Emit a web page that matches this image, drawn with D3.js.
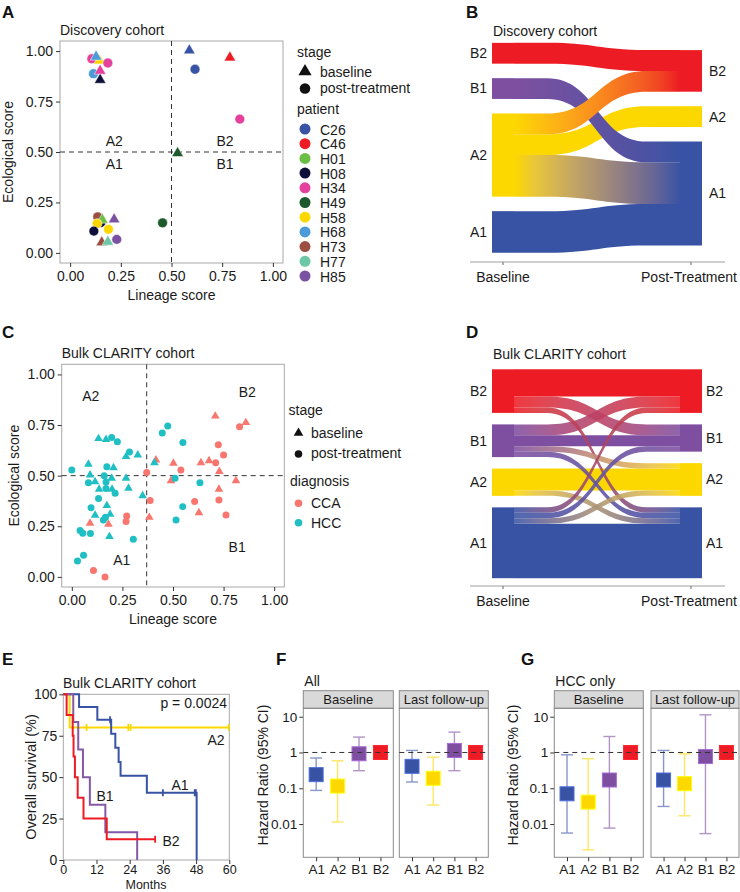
<!DOCTYPE html>
<html><head><meta charset="utf-8">
<script src="https://cdn.jsdelivr.net/npm/d3@7/dist/d3.min.js"></script>
<style>html,body{margin:0;padding:0;background:#fff;} svg{display:block;}</style>
</head><body>
<script>
// ================= DATA =================
const patients = ["C26","C46","H01","H08","H34","H49","H58","H68","H73","H77","H85"];
const patientColors = ["#3953a4","#ed1c24","#6abd45","#0e1039","#e5409b","#1c5a2b","#fdd800","#4a9bd7","#9b4f42","#6cc7a7","#7b51a1"];
const stageLabels = ["baseline","post-treatment"];
// [patient, stage (b/p), lineage score, ecological score]
const discoveryPoints = [
  ["H34","p",0.107,0.962],["H58","b",0.145,0.953],["H68","b",0.128,0.972],["H34","p",0.186,0.941],
  ["H68","p",0.115,0.888],["H34","b",0.148,0.902],["H08","b",0.148,0.857],
  ["C26","b",0.588,1.003],["C26","p",0.616,0.910],["C46","b",0.788,0.968],["H34","p",0.837,0.663],
  ["H49","b",0.530,0.494],
  ["H08","p",0.151,0.150],["H73","p",0.136,0.179],["H01","b",0.159,0.164],["H58","p",0.133,0.145],
  ["H08","p",0.117,0.108],["H85","b",0.217,0.166],["H58","p",0.189,0.117],["H73","b",0.156,0.052],
  ["H77","b",0.186,0.055],["H85","p",0.230,0.067],["H49","p",0.456,0.149]
];
const diagnoses = ["CCA","HCC"];
const diagnosisColors = ["#f8766d","#1fbfc4"];
// [diagnosis, stage, lineage score, ecological score]
const clarityPoints = [
  ["CCA","p",0.370,0.515],["CCA","b",0.416,0.577],["CCA","p",0.387,0.377],["CCA","b",0.383,0.294],
  ["CCA","p",0.271,0.301],["CCA","p",0.268,0.273],["CCA","b",0.090,0.265],["CCA","b",0.181,0.260],
  ["CCA","p",0.107,0.031],["CCA","p",0.164,0.000],["CCA","b",0.502,0.561],["CCA","b",0.490,0.475],
  ["CCA","p",0.539,0.528],["CCA","b",0.709,0.794],["CCA","p",0.829,0.742],["CCA","b",0.860,0.762],
  ["CCA","p",0.724,0.653],["CCA","p",0.750,0.602],["CCA","b",0.678,0.574],["CCA","p",0.711,0.564],
  ["CCA","b",0.638,0.564],["CCA","b",0.729,0.521],["CCA","b",0.811,0.475],["CCA","b",0.727,0.433],
  ["CCA","p",0.607,0.372],["CCA","p",0.727,0.380],["CCA","b",0.628,0.317],["CCA","p",0.762,0.306],
  ["HCC","p",0.000,0.528],["HCC","b",0.082,0.556],["HCC","b",0.090,0.503],["HCC","p",0.082,0.465],
  ["HCC","b",0.115,0.470],["HCC","b",0.132,0.683],["HCC","b",0.169,0.679],["HCC","p",0.197,0.688],
  ["HCC","p",0.225,0.668],["HCC","p",0.173,0.544],["HCC","b",0.206,0.539],["HCC","p",0.160,0.500],
  ["HCC","p",0.169,0.469],["HCC","b",0.197,0.487],["HCC","b",0.135,0.433],["HCC","p",0.169,0.436],
  ["HCC","b",0.199,0.433],["HCC","p",0.214,0.413],["HCC","p",0.132,0.387],["HCC","p",0.095,0.342],
  ["HCC","b",0.115,0.304],["HCC","b",0.173,0.352],["HCC","p",0.156,0.281],["HCC","p",0.166,0.294],
  ["HCC","b",0.189,0.309],["HCC","p",0.041,0.229],["HCC","p",0.054,0.215],["HCC","p",0.092,0.214],
  ["HCC","b",0.186,0.199],["HCC","p",0.028,0.079],["HCC","p",0.058,0.107],["HCC","p",0.285,0.617],
  ["HCC","b",0.268,0.594],["HCC","b",0.326,0.602],["HCC","b",0.268,0.487],["HCC","b",0.280,0.438],
  ["HCC","b",0.350,0.401],["HCC","p",0.304,0.186],["HCC","p",0.447,0.711],["HCC","p",0.474,0.745],
  ["HCC","p",0.549,0.664],["HCC","b",0.408,0.564],["HCC","p",0.510,0.487],["HCC","p",0.548,0.347],
  ["HCC","p",0.515,0.281],["HCC","p",0.633,0.465]
];
const scoreTicks = [0, 0.25, 0.5, 0.75, 1];

const states = ["B2","B1","A2","A1"];
const stateColors = {B2:"#ed1c24", B1:"#7e4fa0", A2:"#fdd800", A1:"#3953a4"};
const timepoints = ["Baseline","Post-Treatment"];
// [from, to, n]
const flowsDiscovery = [["B2","B2",1],["B1","A1",1],["A2","B2",1],["A2","A2",1],["A2","A1",2],["A1","A1",2]];
const flowsClarity = [["B2","B2",5],["B2","B1",2],["B2","A1",1],["B1","B2",2],["B1","B1",2],["B1","A2",1],["B1","A1",1],
  ["A2","A2",4],["A2","A1",1],["A1","B2",1],["A1","B1",1],["A1","A2",1],["A1","A1",10]];

// Kaplan-Meier steps [months, survival %]
const survA1 = [[0,100],[5.7,92.3],[12.3,84.6],[17.3,76.2],[18.8,67.7],[20.0,59.2],[20.7,50.8],[30.2,40.6],[48.2,0]];
const survA2 = [[0,100],[2.3,80]];
const survB1 = [[0,100],[3.6,83.3],[5.4,66.7],[7.1,50],[9.6,33.3],[15.2,16.7],[26.7,0]];
const survB2 = [[0,100],[1.2,87.5],[3.4,75],[3.7,62.5],[4.2,50],[5.2,37.5],[7.3,25],[15.7,12.5]];
const survEnd = {A1:48.2, A2:60, B1:26.7, B2:33.2};
const censA1 = [16.9, 36.0, 47.5, 47.9];
const censA2 = [8.4, 23.5, 24.3, 59.8];
const censB1 = [];
const censB2 = [33.2];
const monthTicks = [0,12,24,36,48,60];
const survTicks = [0,25,50,75,100];

// Hazard ratios
const hrGroups = ["A1","A2","B1","B2"];
const hrFacets = ["Baseline","Last follow-up"];
const hrAllBaseline = {est:[0.24,0.115,0.92,1], lo:[0.087,0.0114,0.31,null], hi:[0.70,0.586,2.69,null]};
const hrAllLast     = {est:[0.41,0.19,1.14,1],  lo:[0.15,0.034,0.31,null],  hi:[1.14,0.74,3.71,null]};
const hrHccBaseline = {est:[0.070,0.041,0.17,1], lo:[0.0056,0.0019,0.0077,null], hi:[0.86,0.67,2.8,null]};
const hrHccLast     = {est:[0.17,0.134,0.77,1],  lo:[0.031,0.017,0.0054,null],  hi:[1.14,0.92,11.3,null]};
const hrTicks = [0.01, 0.1, 1, 10];

// ================= DRAWING =================
const FONT = '"Liberation Sans", Arial, Helvetica, sans-serif';
const TXT = "#1a1a1a";
const svg = d3.select("body").append("svg").attr("width",740).attr("height",892)
  .attr("font-family",FONT).attr("fill",TXT);

function txt(g, x, y, s, size, anchor) {
  return g.append("text").attr("x",x).attr("y",y).attr("font-size",size||14)
    .attr("text-anchor",anchor||"start").attr("fill",TXT).text(s);
}
function styleAxis(sel, fs) {
  sel.attr("font-family",FONT).attr("font-size",fs);
  sel.select(".domain").remove();
  sel.selectAll(".tick line").attr("stroke","#333");
  sel.selectAll(".tick text").attr("fill",TXT);
}
function letter(s,x,y){ svg.append("text").attr("x",x).attr("y",y).attr("font-size",17).attr("font-weight","bold").attr("fill","#111").text(s); }

letter("A",2,18); letter("B",466,18); letter("C",2,338); letter("D",466,338);
letter("E",2,665); letter("F",276,665); letter("G",521,665);

// ---------- scatter panels ----------
function scatterPanel(o) {
  const g = svg.append("g");
  const x = d3.scaleLinear().domain([-0.05,1.05]).range([o.left,o.right]);
  const y = d3.scaleLinear().domain([-0.05,1.05]).range([o.bottom,o.top]);
  g.append("rect").attr("x",o.left).attr("y",o.top).attr("width",o.right-o.left).attr("height",o.bottom-o.top)
    .attr("fill","none").attr("stroke","#a8a8a8").attr("stroke-width",1);
  const fmt = d3.format(".2f");
  const gx = g.append("g").attr("transform",`translate(0,${o.bottom})`)
    .call(d3.axisBottom(x).tickValues(scoreTicks).tickFormat(fmt).tickSize(4).tickPadding(4));
  styleAxis(gx,14);
  const gy = g.append("g").attr("transform",`translate(${o.left},0)`)
    .call(d3.axisLeft(y).tickValues(scoreTicks).tickFormat(fmt).tickSize(4).tickPadding(3));
  styleAxis(gy,14);
  txt(g,(o.left+o.right)/2,o.bottom+37,"Lineage score",14,"middle");
  g.append("text").attr("transform",`translate(${o.ytitleX},${(o.top+o.bottom)/2}) rotate(-90)`)
    .attr("text-anchor","middle").attr("font-size",14).attr("fill",TXT).text("Ecological score");
  txt(g,o.left,o.top-6,o.title,14);
  g.append("line").attr("x1",x(o.vx)).attr("x2",x(o.vx)).attr("y1",o.top).attr("y2",o.bottom)
    .attr("stroke","#333").attr("stroke-dasharray","5,4").attr("stroke-width",1);
  g.append("line").attr("x1",o.left).attr("x2",o.right).attr("y1",y(0.5)).attr("y2",y(0.5))
    .attr("stroke","#333").attr("stroke-dasharray","5,4").attr("stroke-width",1);
  o.labels.forEach(l => txt(g,x(l[1]),y(l[2]),l[0],14,"middle").attr("dy","0.35em"));
  return {g,x,y};
}

// Panel A
(function(){
  const p = scatterPanel({left:60,right:283,top:41,bottom:263,vx:0.5,ytitleX:13,title:"Discovery cohort",
    labels:[["A2",0.218,0.553],["A1",0.218,0.442],["B2",0.764,0.553],["B1",0.764,0.442]]});
  const col = d3.scaleOrdinal().domain(patients).range(patientColors);
  discoveryPoints.forEach(d=>{
    const cx = p.x(d[2]), cy = p.y(d[3]);
    if (d[1]==="b") p.g.append("path").attr("d",d3.symbol(d3.symbolTriangle,58)()).attr("transform",`translate(${cx},${cy})`)
      .attr("fill",col(d[0])).attr("stroke","#fff").attr("stroke-width",0.5);
    else p.g.append("circle").attr("cx",cx).attr("cy",cy).attr("r",4.9).attr("fill",col(d[0])).attr("stroke","#fff").attr("stroke-width",0.5);
  });
  const lg = svg.append("g");
  txt(lg,297,57,"stage",14);
  lg.append("path").attr("d",d3.symbol(d3.symbolTriangle,75)()).attr("transform","translate(305,71.5)").attr("fill","#111");
  txt(lg,320,76.5,stageLabels[0],14);
  lg.append("circle").attr("cx",305).attr("cy",88.5).attr("r",5.3).attr("fill","#111");
  txt(lg,320,93,stageLabels[1],14);
  txt(lg,297,114,"patient",14);
  patients.forEach((pt,i)=>{
    const cy = 129 + i*14.7;
    lg.append("circle").attr("cx",305).attr("cy",cy).attr("r",5.5).attr("fill",col(pt));
    txt(lg,320,cy+5.5,pt,14);
  });
})();

// Panel C
(function(){
  const p = scatterPanel({left:61.7,right:284.3,top:364.3,bottom:587,vx:0.37,ytitleX:18.5,title:"Bulk CLARITY cohort",
    labels:[["A2",0.094,0.893],["B2",0.867,0.914],["A1",0.247,0.084],["B1",0.817,0.146]]});
  const col = d3.scaleOrdinal().domain(diagnoses).range(diagnosisColors);
  clarityPoints.forEach(d=>{
    const cx = p.x(d[2]), cy = p.y(d[3]);
    if (d[1]==="b") p.g.append("path").attr("d",d3.symbol(d3.symbolTriangle,32)()).attr("transform",`translate(${cx},${cy})`).attr("fill",col(d[0]));
    else p.g.append("circle").attr("cx",cx).attr("cy",cy).attr("r",3.5).attr("fill",col(d[0]));
  });
  const lg = svg.append("g");
  txt(lg,288.5,415,"stage",14);
  lg.append("path").attr("d",d3.symbol(d3.symbolTriangle,40)()).attr("transform","translate(298.5,433)").attr("fill","#111");
  txt(lg,311,438,stageLabels[0],14);
  lg.append("circle").attr("cx",298.5).attr("cy",454).attr("r",3.8).attr("fill","#111");
  txt(lg,311,457.5,stageLabels[1],14);
  txt(lg,290,486,"diagnosis",14);
  diagnoses.forEach((dg,i)=>{
    const cy = 503.3 + i*19.5;
    lg.append("circle").attr("cx",298.5).attr("cy",cy).attr("r",3.8).attr("fill",col(dg));
    txt(lg,311,cy+5,dg,14);
  });
})();

// ---------- sankey panels ----------
let gradId = 0;
const defs = svg.append("defs");
function sankeyPanel(o) {
  const g = svg.append("g");
  const xs = d3.scalePoint().domain(timepoints).range([503,691]);
  const sw = 22;
  const ky = d3.scaleLinear().domain([0,1]).range([0,o.unit]);
  const totL = {}, totR = {};
  o.flows.forEach(([s,t,v])=>{ totL[s]=(totL[s]||0)+v; totR[t]=(totR[t]||0)+v; });
  function layout(tot){
    const keys = states.filter(k=>tot[k]);
    const h = ky(d3.sum(keys,k=>tot[k])) + o.gap*(keys.length-1);
    let yy = o.center - h/2; const pos = {};
    keys.forEach(k=>{ pos[k]={y0:yy,y1:yy+ky(tot[k])}; yy += ky(tot[k]) + o.gap; });
    return pos;
  }
  const L = layout(totL), R = layout(totR);
  const fl = o.flows.map(([s,t,v])=>({s,t,v}));
  states.forEach(k=>{
    if (L[k]) { let c = L[k].y0; fl.filter(f=>f.s===k).sort((a,b)=>states.indexOf(a.t)-states.indexOf(b.t)).forEach(f=>{f.sy0=c; c+=ky(f.v); f.sy1=c;}); }
    if (R[k]) { let c = R[k].y0; fl.filter(f=>f.t===k).sort((a,b)=>states.indexOf(a.s)-states.indexOf(b.s)).forEach(f=>{f.ty0=c; c+=ky(f.v); f.ty1=c;}); }
  });
  const x0 = xs(timepoints[0]) + sw/2, x1 = xs(timepoints[1]) - sw/2;
  const dx = x1-x0, xa = x0+0.2*dx, xb = x1-0.2*dx, xm = (x0+x1)/2;
  const ordered = fl.filter(f=>f.s===f.t).concat(fl.filter(f=>f.s!==f.t).sort((a,b)=>b.v-a.v));
  ordered.forEach(f=>{
    const id = "grad"+(gradId++);
    const lgd = defs.append("linearGradient").attr("id",id).attr("gradientUnits","userSpaceOnUse")
      .attr("x1",x0).attr("x2",x1).attr("y1",0).attr("y2",0);
    const interp = d3.interpolateLab(stateColors[f.s], stateColors[f.t]);
    d3.range(0,1.0001,0.125).forEach(t=>{
      lgd.append("stop").attr("offset",(t*100)+"%").attr("stop-color",interp(t));
    });
    const d = `M${x0},${f.sy0}L${xa},${f.sy0}C${xm},${f.sy0} ${xm},${f.ty0} ${xb},${f.ty0}L${x1},${f.ty0}`+
              `L${x1},${f.ty1}L${xb},${f.ty1}C${xm},${f.ty1} ${xm},${f.sy1} ${xa},${f.sy1}L${x0},${f.sy1}Z`;
    g.append("path").attr("d",d).attr("fill",`url(#${id})`).attr("opacity", f.s===f.t ? 1 : o.crossOpacity);
  });
  [[L,0],[R,1]].forEach(([pos,ci])=>{
    Object.keys(pos).forEach(k=>{
      g.append("rect").attr("x",xs(timepoints[ci])-sw/2).attr("y",pos[k].y0).attr("width",sw)
        .attr("height",pos[k].y1-pos[k].y0).attr("fill",stateColors[k]);
      const ym = (pos[k].y0+pos[k].y1)/2;
      if (ci===0) txt(g,487,ym,k,14,"end").attr("dy","0.35em");
      else txt(g,o.rightLabelX,ym,k,14,"start").attr("dy","0.35em");
    });
  });
  g.append("line").attr("x1",470).attr("x2",725).attr("y1",o.axisY).attr("y2",o.axisY).attr("stroke","#a0a0a0").attr("stroke-width",1.2);
  timepoints.forEach(t=>{
    g.append("line").attr("x1",xs(t)).attr("x2",xs(t)).attr("y1",o.axisY).attr("y2",o.axisY+3).attr("stroke","#666");
  });
  txt(g,xs(timepoints[0]),o.axisY+20,timepoints[0],14,"middle");
  txt(g,689,o.axisY+20,timepoints[1],14,"middle");
  txt(g,493,o.titleY,o.title,14);
}
sankeyPanel({flows:flowsDiscovery,unit:20.8,gap:14.5,center:147.8,axisY:262,titleY:36,title:"Discovery cohort",crossOpacity:1,rightLabelX:709});
sankeyPanel({flows:flowsClarity,unit:5.45,gap:11.5,center:473.75,axisY:586,titleY:359,title:"Bulk CLARITY cohort",crossOpacity:0.88,rightLabelX:706});

// ---------- survival panel E ----------
(function(){
  const g = svg.append("g");
  const x = d3.scaleLinear().domain([0,60]).range([63.3,229.3]);
  const y = d3.scaleLinear().domain([0,100]).range([860,694.3]);
  g.append("rect").attr("x",63.3).attr("y",694.3).attr("width",166).attr("height",165.7).attr("fill","none").attr("stroke","#a8a8a8");
  const gx = g.append("g").attr("transform","translate(0,860)").call(d3.axisBottom(x).tickValues(monthTicks).tickSize(4).tickPadding(1));
  styleAxis(gx,12.5);
  const gy = g.append("g").attr("transform","translate(63.3,0)").call(d3.axisLeft(y).tickValues(survTicks).tickSize(4).tickPadding(2));
  styleAxis(gy,14);
  txt(g,146,888.5,"Months",12.5,"middle");
  g.append("text").attr("transform","translate(36,777) rotate(-90)").attr("text-anchor","middle").attr("font-size",14.5).attr("fill",TXT).text("Overall survival (%)");
  txt(g,63,688,"Bulk CLARITY cohort",14);
  txt(g,227,708,"p = 0.0024",14,"end");
  const line = d3.line().x(d=>x(d[0])).y(d=>y(d[1])).curve(d3.curveStepAfter);
  const series = [["A2",survA2,censA2,"#fdd800"],["A1",survA1,censA1,"#3953a4"],["B1",survB1,censB1,"#8558a6"],["B2",survB2,censB2,"#ed1c24"]];
  series.forEach(([k,s,c,color])=>{
    const last = s[s.length-1];
    const pts = last[1]>0 ? s.concat([[survEnd[k], last[1]]]) : s;
    g.append("path").attr("d",line(pts)).attr("fill","none").attr("stroke",color).attr("stroke-width",2);
    c.forEach(t=>{
      let v = s[0][1]; s.forEach(p=>{ if (p[0]<=t) v=p[1]; });
      g.append("line").attr("x1",x(t)).attr("x2",x(t)).attr("y1",y(v)-3.5).attr("y2",y(v)+3.5).attr("stroke",color).attr("stroke-width",1.8);
    });
  });
  txt(g,216,745,"A2",14,"middle");
  txt(g,180,790,"A1",14,"middle");
  txt(g,105,801,"B1",14,"middle");
  txt(g,171,846,"B2",14,"middle");
})();

// ---------- hazard ratio panels F, G ----------
function forestPanel(o) {
  const g = svg.append("g");
  const top = 708.3, bottom = 857.3, stripTop = 690.7;
  const y = d3.scaleLog().domain([Math.pow(10,-2.93), Math.pow(10,1.235)]).range([bottom, top]);
  const gy = g.append("g").attr("transform",`translate(${o.facets[0][0]},0)`)
    .call(d3.axisLeft(y).tickValues(hrTicks).tickFormat(d=>String(d)).tickSize(4).tickPadding(2));
  styleAxis(gy,13.5);
  g.append("text").attr("transform",`translate(${o.ytitleX},775) rotate(-90)`).attr("text-anchor","middle")
    .attr("font-size",14).attr("fill",TXT).text("Hazard Ratio (95% CI)");
  txt(g,o.facets[0][0]+1,686,o.title,14);
  o.facets.forEach(([fx0,fx1],i)=>{
    const data = o.data[i];
    const x = d3.scalePoint().domain(hrGroups).range([fx0,fx1]).padding(0.6);
    g.append("rect").attr("x",fx0).attr("y",stripTop).attr("width",fx1-fx0).attr("height",top-stripTop)
      .attr("fill","#d9d9d9").attr("stroke","#8a8a8a");
    txt(g,(fx0+fx1)/2,704,hrFacets[i],13,"middle");
    g.append("rect").attr("x",fx0).attr("y",top).attr("width",fx1-fx0).attr("height",bottom-top)
      .attr("fill","none").attr("stroke","#8a8a8a");
    hrGroups.forEach((k,j)=>{
      const cx = x(k), color = stateColors[k];
      if (data.lo[j]!==null) {
        const yl = y(data.lo[j]), yh = y(data.hi[j]);
        const cg = g.append("g").attr("stroke",color).attr("stroke-width",1.4).attr("opacity",0.6);
        cg.append("line").attr("x1",cx).attr("x2",cx).attr("y1",yl).attr("y2",yh);
        cg.append("line").attr("x1",cx-6).attr("x2",cx+6).attr("y1",yl).attr("y2",yl);
        cg.append("line").attr("x1",cx-6).attr("x2",cx+6).attr("y1",yh).attr("y2",yh);
      }
      const cy = y(data.est[j]);
      g.append("rect").attr("x",cx-7).attr("y",cy-7).attr("width",14).attr("height",14)
        .attr("fill",color).attr("stroke",d3.color(color).brighter(0.8)).attr("stroke-width",1);
    });
    g.append("line").attr("x1",fx0).attr("x2",fx1).attr("y1",y(1)).attr("y2",y(1))
      .attr("stroke","#333").attr("stroke-dasharray","5,4").attr("stroke-width",1);
    const gx = g.append("g").attr("transform",`translate(0,${bottom})`)
      .call(d3.axisBottom(x).tickSize(4).tickPadding(3));
    styleAxis(gx,13.5);
  });
}
forestPanel({title:"All", ytitleX:268, facets:[[303.3,393.3],[399.3,488.3]], data:[hrAllBaseline,hrAllLast]});
forestPanel({title:"HCC only", ytitleX:518, facets:[[554.3,643.3],[651,739]], data:[hrHccBaseline,hrHccLast]});
</script>
</body></html>
